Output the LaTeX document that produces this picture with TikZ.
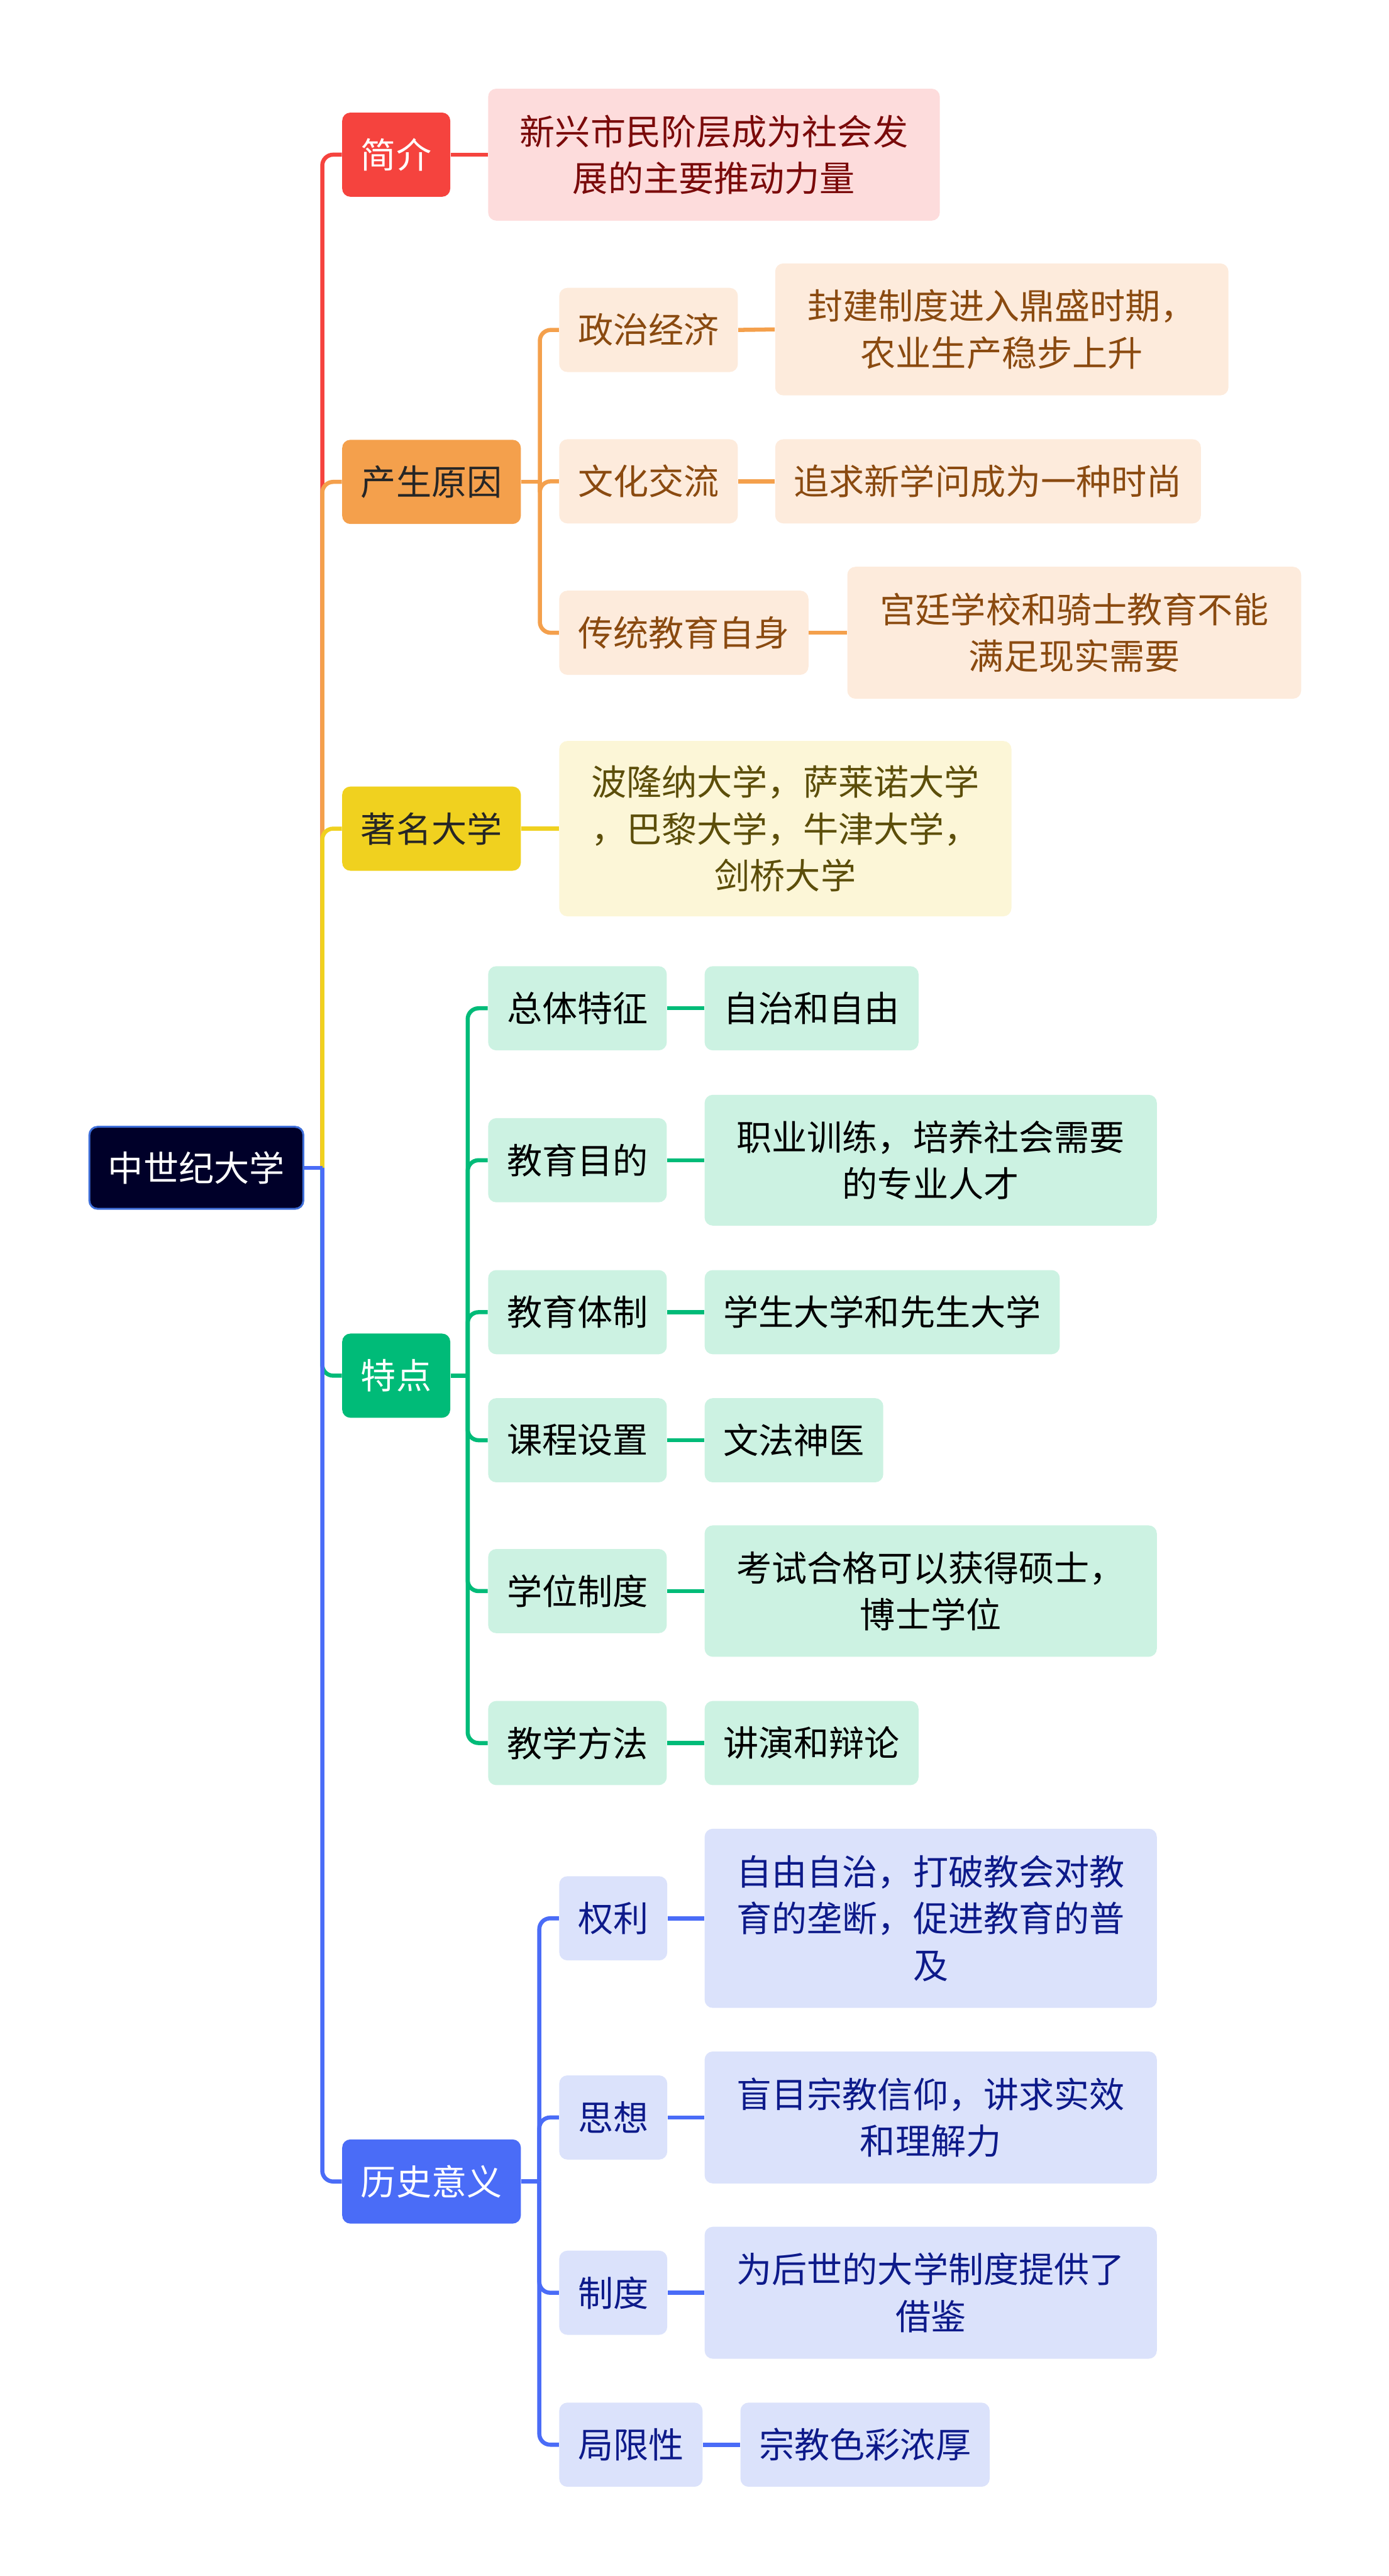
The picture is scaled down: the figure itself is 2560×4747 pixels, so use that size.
\documentclass[tikz,border=0pt]{standalone}
\usepackage{fontspec}
\setmainfont{Noto Sans CJK SC}
\usepackage{xcolor}
\usepackage{tikz}
\usetikzlibrary{positioning}
\definecolor{UniNavy}{HTML}{000029}
\definecolor{UniEdge}{HTML}{3F6FD9}
\definecolor{UniInk}{HTML}{262626}
\definecolor{UniRed}{HTML}{F5433E}
\definecolor{UniRedBg}{HTML}{FDDCDC}
\definecolor{UniRedTx}{HTML}{7A0A0A}
\definecolor{UniOrange}{HTML}{F4A04C}
\definecolor{UniOrangeBg}{HTML}{FDEBDC}
\definecolor{UniOrangeTx}{HTML}{8A4A10}
\definecolor{UniYellow}{HTML}{F0D11F}
\definecolor{UniYellowBg}{HTML}{FCF6D7}
\definecolor{UniYellowTx}{HTML}{5C4E0A}
\definecolor{UniGreen}{HTML}{00BB78}
\definecolor{UniGreenBg}{HTML}{CCF2E2}
\definecolor{UniBlue}{HTML}{4A6CF7}
\definecolor{UniBlueBg}{HTML}{DBE2FB}
\definecolor{UniBlueTx}{HTML}{0D1A8A}
\newcommand\mapfont{\fontsize{18.5}{24.5}\selectfont}

\begin{document}
\begin{tikzpicture}[x=0.01cm, y=-0.01cm, font=\mapfont,
  box/.style={rounded corners=0.15cm, anchor=west, align=center, inner xsep=0.345cm,
              inner ysep=0pt, minimum height=1.55cm},
  wide/.style={minimum width=8.33cm},
  two/.style={wide, minimum height=2.43cm},
  three/.style={wide, minimum height=3.27cm},
  root/.style={box, fill=UniNavy, draw=UniEdge, line width=1pt, text=white, minimum height=1.51cm},
  brR/.style={box, fill=UniRed, text=white},
  brO/.style={box, fill=UniOrange, text=UniInk},
  brY/.style={box, fill=UniYellow, text=UniInk},
  brG/.style={box, fill=UniGreen, text=white},
  brB/.style={box, fill=UniBlue, text=white},
  lfR/.style={box, fill=UniRedBg, text=UniRedTx},
  lfO/.style={box, fill=UniOrangeBg, text=UniOrangeTx},
  lfY/.style={box, fill=UniYellowBg, text=UniYellowTx},
  lfG/.style={box, fill=UniGreenBg, text=black},
  lfB/.style={box, fill=UniBlueBg, text=UniBlueTx},
  link/.style={line width=2.15pt},
  elbow/.style={link, rounded corners=0.2cm}]
\useasboundingbox (0,0) rectangle (2560,4747);
%% root and first level
\node[root] (root) at (163,2152) {中世纪大学};
\node[brR] (intro) at (630,285) {简介};
\node[brO] (cause) at (630,888) {产生原因};
\node[brY] (famous) at (630,1527) {著名大学};
\node[brG] (feat) at (630,2535) {特点};
\node[brB] (sig) at (630,4020) {历史意义};
%% 简介
\node[lfR, two, minimum width=8.32cm] (introL) at (899,285) {新兴市民阶层成为社会发\\展的主要推动力量};
%% 产生原因
\node[lfO] (polit) at (1030,608) {政治经济};
\node[lfO, two, minimum width=8.35cm] (politL) at (1428,607) {封建制度进入鼎盛时期，\\农业生产稳步上升};
\node[lfO] (cult) at (1030,887) {文化交流};
\node[lfO] (cultL) at (1428,887) {追求新学问成为一种时尚};
\node[lfO] (trad) at (1030,1166) {传统教育自身};
\node[lfO, two, minimum width=8.36cm] (tradL) at (1561,1166) {宫廷学校和骑士教育不能\\满足现实需要};
%% 著名大学
\node[lfY, three, minimum height=3.23cm] (famousL) at (1030,1527) {波隆纳大学，萨莱诺大学\\，巴黎大学，牛津大学，\\剑桥大学};
%% 特点
\node[lfG] (fAll) at (899,1858) {总体特征};
\node[lfG] (fAllL) at (1298,1858) {自治和自由};
\node[lfG] (fAim) at (899,2138) {教育目的};
\node[lfG, two, minimum height=2.41cm] (fAimL) at (1298,2138) {职业训练，培养社会需要\\的专业人才};
\node[lfG] (fSys) at (899,2418) {教育体制};
\node[lfG] (fSysL) at (1298,2418) {学生大学和先生大学};
\node[lfG] (fCur) at (899,2654) {课程设置};
\node[lfG] (fCurL) at (1298,2654) {文法神医};
\node[lfG] (fDeg) at (899,2932) {学位制度};
\node[lfG, two, minimum height=2.42cm] (fDegL) at (1298,2932) {考试合格可以获得硕士，\\博士学位};
\node[lfG] (fMeth) at (899,3212) {教学方法};
\node[lfG] (fMethL) at (1298,3212) {讲演和辩论};
%% 历史意义
\node[lfB] (sRight) at (1030,3535) {权利};
\node[lfB, three, minimum height=3.3cm] (sRightL) at (1298,3535) {自由自治，打破教会对教\\育的垄断，促进教育的普\\及};
\node[lfB] (sIdea) at (1030,3902) {思想};
\node[lfB, two] (sIdeaL) at (1298,3902) {盲目宗教信仰，讲求实效\\和理解力};
\node[lfB] (sInst) at (1030,4225) {制度};
\node[lfB, two] (sInstL) at (1298,4225) {为后世的大学制度提供了\\借鉴};
\node[lfB] (sLim) at (1030,4505) {局限性};
\node[lfB] (sLimL) at (1364,4505) {宗教色彩浓厚};
%% trunk: later branches paint over earlier ones
\coordinate (hub) at (594,2152);
\draw[elbow, UniRed] (hub) |- (intro.west);
\draw[elbow, UniOrange] (hub) |- (cause.west);
\draw[elbow, UniYellow] (hub) |- (famous.west);
\draw[elbow, UniGreen] (hub) |- (feat.west);
\draw[elbow, UniBlue] (hub) |- (sig.west);
\draw[link, UniBlue] (root.east) -- (hub);
%% second level
\draw[link, UniRed] (intro.east) -- (introL.west);
\draw[link, UniYellow] (famous.east) -- (famousL.west);
\coordinate (causeHub) at (995,888);
\draw[link, UniOrange] (cause.east) -- (causeHub);
\foreach \c/\l in {polit/politL, cult/cultL, trad/tradL}
  {\draw[elbow, UniOrange] (causeHub) |- (\c.west);
   \draw[link, UniOrange] (\c.east) -- (\l.west);}
\coordinate (featHub) at (862,2535);
\draw[link, UniGreen] (feat.east) -- (featHub);
\foreach \c/\l in {fAll/fAllL, fAim/fAimL, fSys/fSysL, fCur/fCurL, fDeg/fDegL, fMeth/fMethL}
  {\draw[elbow, UniGreen] (featHub) |- (\c.west);
   \draw[link, UniGreen] (\c.east) -- (\l.west);}
\coordinate (sigHub) at (994,4020);
\draw[link, UniBlue] (sig.east) -- (sigHub);
\foreach \c/\l in {sRight/sRightL, sIdea/sIdeaL, sInst/sInstL, sLim/sLimL}
  {\draw[elbow, UniBlue] (sigHub) |- (\c.west);
   \draw[link, UniBlue] (\c.east) -- (\l.west);}
\end{tikzpicture}
\end{document}
